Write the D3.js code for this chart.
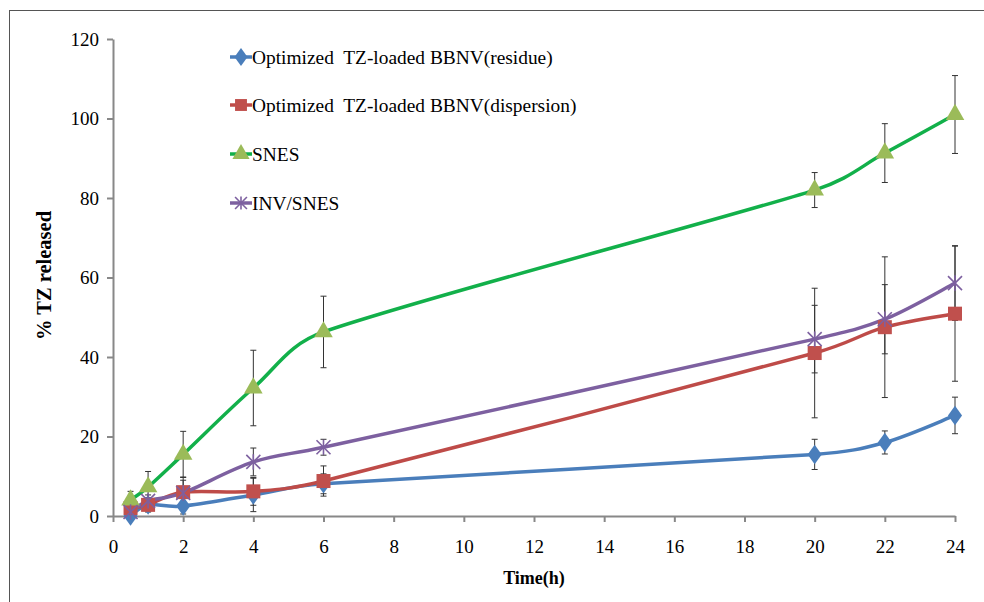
<!DOCTYPE html>
<html>
<head>
<meta charset="utf-8">
<script src="https://cdn.jsdelivr.net/npm/d3@7"></script>
<style>
  body { margin: 0; background: #fff; }
  svg { display: block; }
  text { font-family: "Liberation Serif", "Times New Roman", serif; fill: #000; }
</style>
</head>
<body>
<div id="chart"></div>
<script>
// time points (h)
const times = [0.5, 1, 2, 4, 6, 20, 22, 24];
const xTicks = [0, 2, 4, 6, 8, 10, 12, 14, 16, 18, 20, 22, 24];
const yTicks = [0, 20, 40, 60, 80, 100, 120];

const residue = [0, 2.8, 2.5, 5.3, 8.1, 15.5, 18.5, 25.3];
const residueErr = [1.5, 1.8, 2, 4.2, 2.5, 3.8, 2.9, 4.6];
const dispersion = [2, 2.8, 6, 6.2, 8.8, 41, 47.5, 50.9];
const dispersionErr = [1.5, 1.5, 3, 3.5, 3.8, 16.3, 17.7, 17];
const snes = [4, 7.3, 15.5, 32.2, 46.3, 82, 91.3, 101];
const snesErr = [2.2, 3.9, 5.8, 9.5, 9, 4.4, 7.4, 9.8];
const invSnes = [1, 3.8, 5.8, 13.6, 17.3, 44.5, 49.5, 58.6];
const invSnesErr = [1, 1.5, 4, 3.5, 2, 8.5, 8.7, 9.4];

const seriesNames = [
  "Optimized  TZ-loaded BBNV(residue)",
  "Optimized  TZ-loaded BBNV(dispersion)",
  "SNES",
  "INV/SNES"
];

const series = [
  { name: seriesNames[0], values: residue, err: residueErr, line: "#4a7ebb", fill: "#4a7ebb", marker: "diamond" },
  { name: seriesNames[1], values: dispersion, err: dispersionErr, line: "#be4b48", fill: "#c0504d", marker: "square" },
  { name: seriesNames[2], values: snes, err: snesErr, line: "#12b04a", fill: "#9bbb59", marker: "triangle" },
  { name: seriesNames[3], values: invSnes, err: invSnesErr, line: "#7d60a0", fill: "#7d60a0", marker: "star" }
];

const W = 984, H = 602;
const svg = d3.select("#chart").append("svg")
  .attr("width", W)
  .attr("height", H);

// outer frame
svg.append("rect")
  .attr("x", 9.5).attr("y", 10.5)
  .attr("width", W).attr("height", H)
  .attr("fill", "none")
  .attr("stroke", "#555")
  .attr("stroke-width", 1);

const x = d3.scaleLinear().domain([0, 24]).range([113, 955]);
const y = d3.scaleLinear().domain([0, 120]).range([516, 39]);

const axisColor = "#888";
const serif = "Liberation Serif, Times New Roman, serif";

// y axis
const yAxis = svg.append("g")
  .attr("transform", `translate(${x(0)},0)`)
  .call(d3.axisLeft(y).tickValues(yTicks).tickSize(6).tickSizeOuter(0).tickPadding(8));
yAxis.attr("font-family", serif);
yAxis.select(".domain").attr("stroke", axisColor).attr("stroke-width", 2);
yAxis.selectAll(".tick line").attr("stroke", axisColor).attr("stroke-width", 2);
yAxis.selectAll(".tick text").style("font-size", "19px").style("font-family", serif).attr("fill", "#000");

// x axis
const xAxis = svg.append("g")
  .attr("transform", `translate(0,${y(0)})`)
  .call(d3.axisBottom(x).tickValues(xTicks).tickSize(6).tickSizeOuter(0).tickPadding(18));
xAxis.attr("font-family", serif);
xAxis.select(".domain").attr("stroke", axisColor).attr("stroke-width", 2);
xAxis.selectAll(".tick line").attr("stroke", axisColor).attr("stroke-width", 2);
xAxis.selectAll(".tick text").style("font-size", "19px").style("font-family", serif).attr("fill", "#000");

// axis titles
svg.append("text")
  .attr("x", x(12)).attr("y", 584)
  .attr("text-anchor", "middle")
  .style("font-size", "18px").style("font-weight", "bold")
  .text("Time(h)");

svg.append("text")
  .attr("transform", `translate(51,${y(60) - 2}) rotate(-90)`)
  .attr("text-anchor", "middle")
  .style("font-size", "20.5px").style("font-weight", "bold")
  .text("% TZ released");

// error bars
const errG = svg.append("g");
series.forEach(s => {
  s.values.forEach((v, i) => {
    const cx = x(times[i]);
    const top = y(v + s.err[i]), bot = y(Math.max(v - s.err[i], 0));
    errG.append("line").attr("x1", cx).attr("x2", cx).attr("y1", top).attr("y2", bot)
      .attr("stroke", "#333").attr("stroke-width", 1);
    [top, bot].forEach(yy => errG.append("line")
      .attr("x1", cx - 3).attr("x2", cx + 3).attr("y1", yy).attr("y2", yy)
      .attr("stroke", "#333").attr("stroke-width", 1));
  });
});

// smoothed line in the spreadsheet style: Catmull-Rom handles, clamped to half the segment width
function smoothPath(vals) {
  const p = vals.map((v, i) => [x(times[i]), y(v)]);
  const path = d3.path();
  path.moveTo(p[0][0], p[0][1]);
  const handle = (a, b, dx) => {
    let hx = (b[0] - a[0]) / 6, hy = (b[1] - a[1]) / 6;
    const lim = dx / 2;
    if (Math.abs(hx) > lim) { const k = lim / Math.abs(hx); hx *= k; hy *= k; }
    return [hx, hy];
  };
  for (let i = 0; i < p.length - 1; i++) {
    const p0 = p[Math.max(i - 1, 0)], p1 = p[i], p2 = p[i + 1], p3 = p[Math.min(i + 2, p.length - 1)];
    const dx = p2[0] - p1[0];
    const h1 = handle(p0, p2, dx), h2 = handle(p1, p3, dx);
    path.bezierCurveTo(p1[0] + h1[0], p1[1] + h1[1], p2[0] - h2[0], p2[1] - h2[1], p2[0], p2[1]);
  }
  return path.toString();
}

series.forEach(s => {
  svg.append("path")
    .attr("d", smoothPath(s.values))
    .attr("fill", "none")
    .attr("stroke", s.line)
    .attr("stroke-width", 3.5);
});

function drawMarker(g, type, cx, cy, s, big) {
  const k = big ? 1 : 0.85;
  if (type === "diamond") {
    g.append("path").attr("d", d3.symbol(d3.symbolDiamond, 110 * k)())
      .attr("transform", `translate(${cx},${cy}) scale(1.25,1)`)
      .attr("fill", s.fill);
  } else if (type === "square") {
    g.append("rect").attr("x", cx - 7 * k).attr("y", cy - 7 * k)
      .attr("width", 14 * k).attr("height", 14 * k).attr("fill", s.fill);
  } else if (type === "triangle") {
    g.append("path").attr("d", d3.symbol(d3.symbolTriangle, 150 * k)())
      .attr("transform", `translate(${cx},${cy})`)
      .attr("fill", s.fill);
  } else {
    const r = 7 * k;
    const gg = g.append("g").attr("transform", `translate(${cx},${cy})`)
      .attr("stroke", s.fill).attr("stroke-width", 1.6);
    gg.append("line").attr("x1", -r).attr("x2", r).attr("y1", -r).attr("y2", r);
    gg.append("line").attr("x1", -r).attr("x2", r).attr("y1", r).attr("y2", -r);
    gg.append("line").attr("x1", 0).attr("x2", 0).attr("y1", -r * 1.1).attr("y2", r * 1.1);
  }
}

// markers
series.forEach(s => {
  const g = svg.append("g");
  s.values.forEach((v, i) => drawMarker(g, s.marker, x(times[i]), y(v), s, true));
});

// legend
const legendY = [57, 105, 154, 203];
series.forEach((s, i) => {
  const g = svg.append("g").attr("transform", `translate(0,${legendY[i]})`);
  g.append("line").attr("x1", 230).attr("x2", 252).attr("y1", 0).attr("y2", 0)
    .attr("stroke", s.line).attr("stroke-width", 3.5);
  drawMarker(g, s.marker, 241, 0, s, false);
  g.append("text").attr("x", 252).attr("y", 6.5)
    .style("font-size", "19.4px")
    .style("font-family", serif)
    .style("white-space", "pre")
    .attr("xml:space", "preserve")
    .text(s.name);
});
</script>
</body>
</html>
